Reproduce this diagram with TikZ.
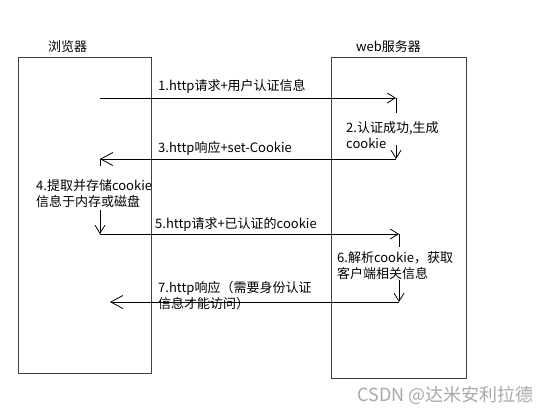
\documentclass[tikz,border=0pt]{standalone}
\usepackage{fontspec}
\setmainfont{Noto Sans CJK SC}
\usetikzlibrary{positioning, arrows.meta}
\definecolor{laneBorder}{HTML}{404040}
\definecolor{markColor}{HTML}{A8A8A8}

\begin{document}
\begin{tikzpicture}[
    x=1pt, y=-1pt,
    every node/.style={font=\fontsize{13}{16}\selectfont},
    lane/.style={
        draw=laneBorder,
        line width=0.9pt,
        minimum width=133pt,
        minimum height=316pt,
        inner sep=0pt,
    },
    title/.style={
        inner sep=0pt,
    },
    stepnote/.style={
        anchor=north west,
        inner sep=0pt,
        align=left,
    },
    seg/.style={
        line width=0.8pt,
    },
    req/.style={
        -{Straight Barb[length=8pt, width=10pt]},
        line width=0.8pt,
    },
    resp/.style={
        -{Straight Barb[length=12pt, width=13pt]},
        line width=0.8pt,
    },
]
\useasboundingbox (0,0) rectangle (548,408);

% ===== 浏览器 / 服务器 =====
\node[lane] (browser) at (84.5,215) {};
\node[lane, minimum width=135pt, minimum height=321pt] (server) at (398.5,217.5) {};
\node[title, above=4pt of browser.north, xshift=-17pt] (browserTitle) {浏览器};
\node[title, above=4pt of server.north, xshift=-10pt] (serverTitle) {web服务器};

% ===== 消息端点 =====
\coordinate (b1) at (100,98);
\coordinate (b2) at (100,159);
\coordinate (b3) at (100,166);
\coordinate (b4) at (100,210);
\coordinate (b5) at (100,234);
\coordinate (b6) at (110,302);
\coordinate (w1) at (396,98);
\coordinate (w2) at (396,113);
\coordinate (w3) at (396,145);
\coordinate (w4) at (396,159);
\coordinate (w5) at (399,234);
\coordinate (w6) at (399,247);
\coordinate (w7) at (399,280);
\coordinate (w8) at (399,302);

% ===== 步骤说明 =====
\node[stepnote] (note1) at (158,79) {1.http请求+用户认证信息};
\node[stepnote] (note2) at (346,121) {2.认证成功,生成\\cookie};
\node[stepnote] (note3) at (158,141) {3.http响应+set-Cookie};
\node[stepnote] (note4) at (36,179) {4.提取并存储cookie\\信息于内存或磁盘};
\node[stepnote] (note5) at (155,217) {5.http请求+已认证的cookie};
\node[stepnote] (note6) at (337,251) {6.解析cookie，获取\\客户端相关信息};
\node[stepnote] (note7) at (158,281) {7.http响应（需要身份认证\\信息才能访问）};

% ===== 消息 =====
\draw[req] (b1) -- (w1);
\draw[seg] (w1) -- (w2);
\draw[req] (w3) -- (w4);
\draw[resp] (w4) -- (b2);
\draw[seg] (b2) -- (b3);
\draw[req] (b4) -- (b5);
\draw[req] (b5) -- (w5);
\draw[seg] (w5) -- (w6);
\draw[req] (w7) -- (w8);
\draw[resp] (w8) -- (b6);

% ===== 水印 =====
\node[anchor=base east, font=\fontsize{18}{20}\selectfont, text=markColor] (mark) at (537,401) {CSDN @达米安利拉德};

\end{tikzpicture}
\end{document}
